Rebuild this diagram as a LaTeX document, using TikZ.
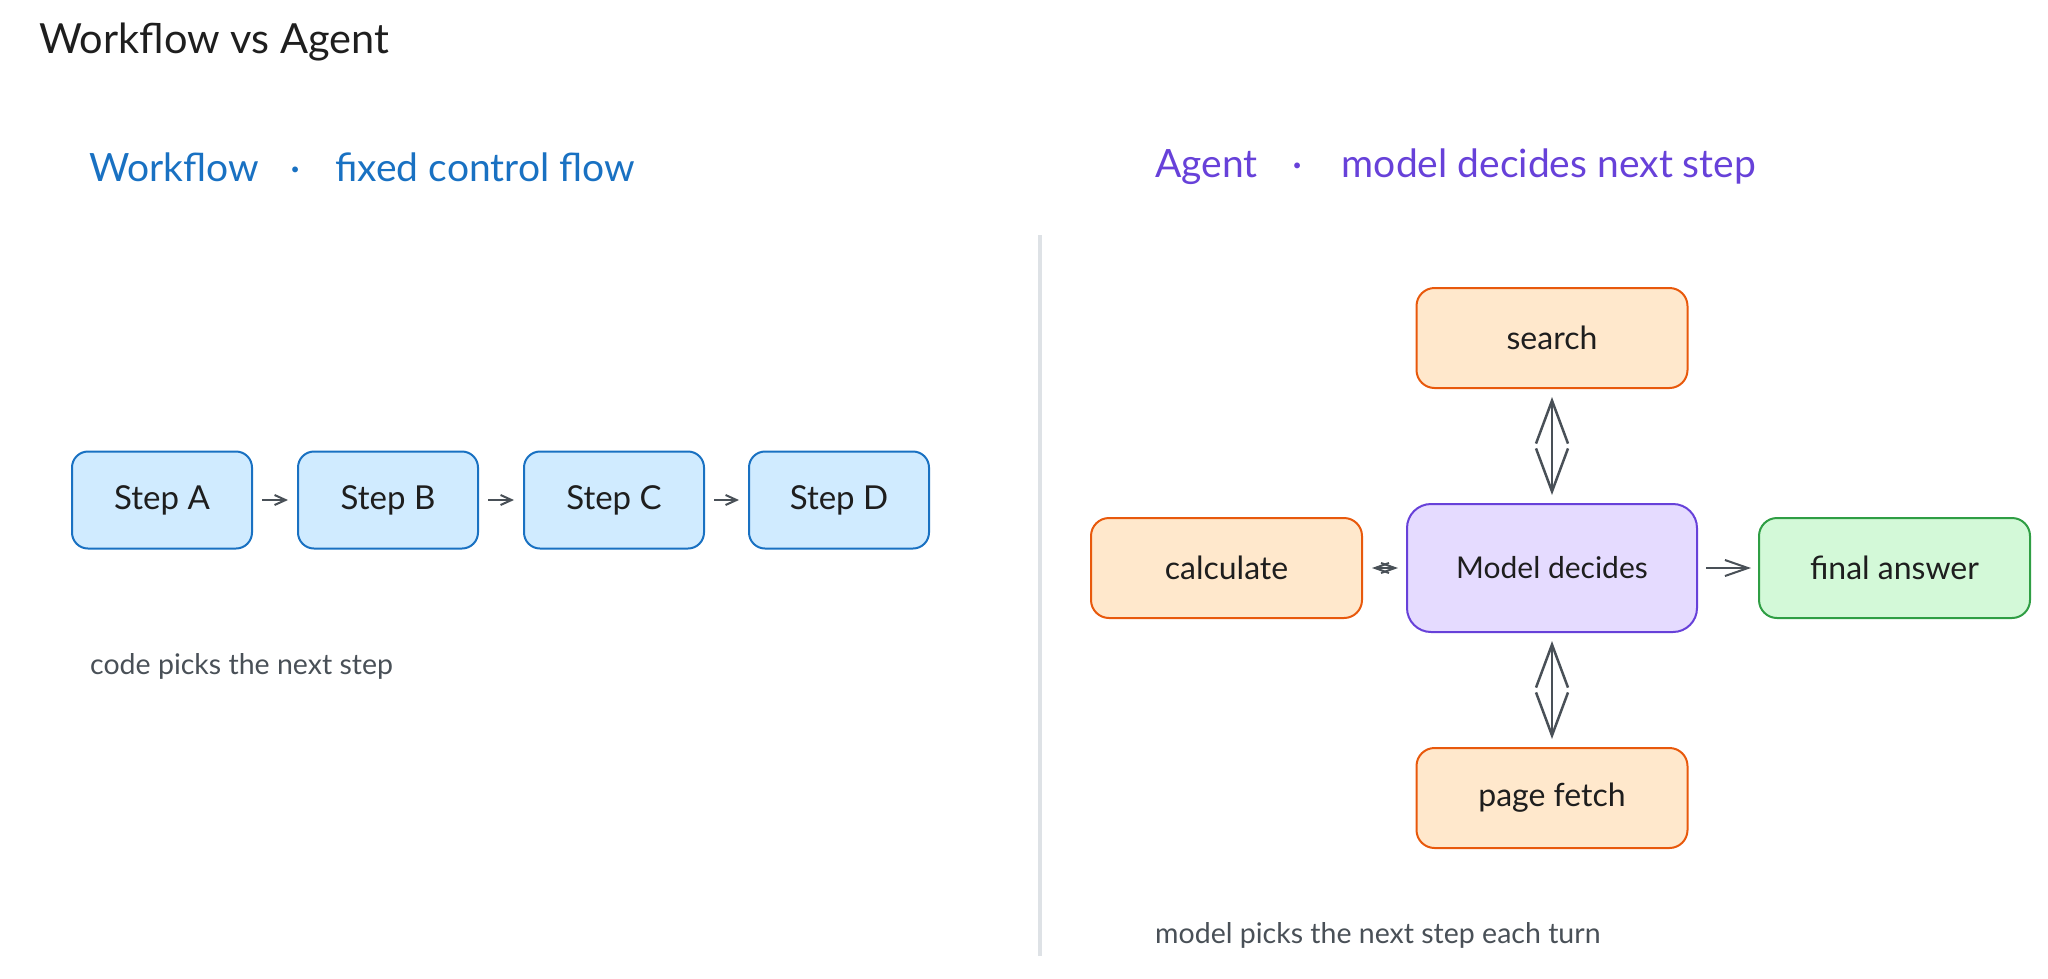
\documentclass[tikz,border=0pt]{standalone}
\usepackage{fontspec}
\setmainfont{Lato}
\usetikzlibrary{arrows.meta,positioning}

\definecolor{ink}{HTML}{1E1E1E}
\definecolor{note}{HTML}{495057}
\definecolor{wfblue}{HTML}{1971C2}
\definecolor{wffill}{HTML}{D0EBFF}
\definecolor{agviolet}{HTML}{6741D9}
\definecolor{agfill}{HTML}{E5DBFF}
\definecolor{tlorange}{HTML}{E8590C}
\definecolor{tlfill}{HTML}{FFE8CC}
\definecolor{ansgreen}{HTML}{2F9E44}
\definecolor{ansfill}{HTML}{D3F9D8}
\definecolor{divider}{HTML}{DEE2E6}

\begin{document}
\begin{tikzpicture}[x=1pt,y=1pt]

\tikzset{stepbox/.style={fill=wffill,draw=wfblue,line width=2pt,rounded corners=16pt,minimum width=180pt,minimum height=97pt,inner sep=0pt,text=ink,font=\fontsize{33}{40}\selectfont},
toolbox/.style={fill=tlfill,draw=tlorange,line width=2pt,rounded corners=18pt,minimum width=271pt,minimum height=100pt,inner sep=0pt,text=ink,font=\fontsize{32}{38}\selectfont},
modelbox/.style={fill=agfill,draw=agviolet,line width=2pt,rounded corners=24pt,minimum width=290pt,minimum height=128pt,inner sep=0pt,text=ink,font=\fontsize{30}{36}\selectfont},
answerbox/.style={fill=ansfill,draw=ansgreen,line width=2pt,rounded corners=18pt,minimum width=271pt,minimum height=100pt,inner sep=0pt,text=ink,font=\fontsize{32}{38}\selectfont},
heading/.style={anchor=west,inner sep=0pt,font=\fontsize{39}{46}\selectfont},
remark/.style={anchor=west,inner sep=0pt,text=note,font=\fontsize{28.5}{34}\selectfont},
flow/.style={-{Straight Barb[length=11pt,width=10pt]},draw=note,line width=2pt,shorten >=9pt,shorten <=9pt},
pick/.style={-{Straight Barb[length=23pt,width=16pt]},draw=note,line width=2pt,shorten >=7pt,shorten <=8pt},
swap/.style={{Straight Barb[length=43pt,width=32pt]}-{Straight Barb[length=43pt,width=32pt]},draw=note,line width=2.5pt,shorten >=8pt,shorten <=8pt},
smallswap/.style={{Straight Barb[length=14pt,width=10pt]}-{Straight Barb[length=14pt,width=10pt]},draw=note,line width=2pt,shorten >=8pt,shorten <=9pt}}

\useasboundingbox (0,0) rectangle (2048,-978);

% Titles
\node (title) [anchor=west,inner sep=0pt,text=ink,font=\fontsize{41.5}{50}\selectfont] at (39,-42) {Workflow vs Agent};
\node (wfhead) [heading,text=wfblue] at (89,-167) {Workflow\hspace{0.8em}·\hspace{0.9em}fixed control flow};
\node (aghead) [heading,text=agviolet] at (1155,-167) {Agent\hspace{0.9em}·\hspace{1em}model decides next step};

% Divider
\draw [divider,line width=4pt] (1040,-235) -- (1040,-956);

% Workflow steps
\node (stepA) [stepbox] at (162,-500) {Step A};
\node (stepB) [right=44pt of stepA,stepbox] {Step B};
\node (stepC) [right=44pt of stepB,stepbox] {Step C};
\node (stepD) [right=43pt of stepC,stepbox] {Step D};

% Arrows connecting steps
\path (stepA) edge [flow] (stepB);
\path (stepB) edge [flow] (stepC);
\path (stepC) edge [flow] (stepD);

\node (wfnote) [remark] at (90,-666) {code picks the next step};

% Agent: model and tools
\node (model) [modelbox] at (1552,-568) {Model decides};
\node (search) [above=114pt of model,toolbox] {search};
\node (fetch) [below=114pt of model,toolbox] {page fetch};
\node (calc) [left=43pt of model,toolbox] {calculate};
\node (answer) [right=60pt of model,answerbox] {final answer};

% Arrows connecting model to tools
\path (search) edge [swap] (model);
\path (model) edge [swap] (fetch);
\path (calc) edge [smallswap] (model);
\path (model) edge [pick] (answer);

\node (agnote) [remark] at (1155,-935) {model picks the next step each turn};

\end{tikzpicture}
\end{document}
